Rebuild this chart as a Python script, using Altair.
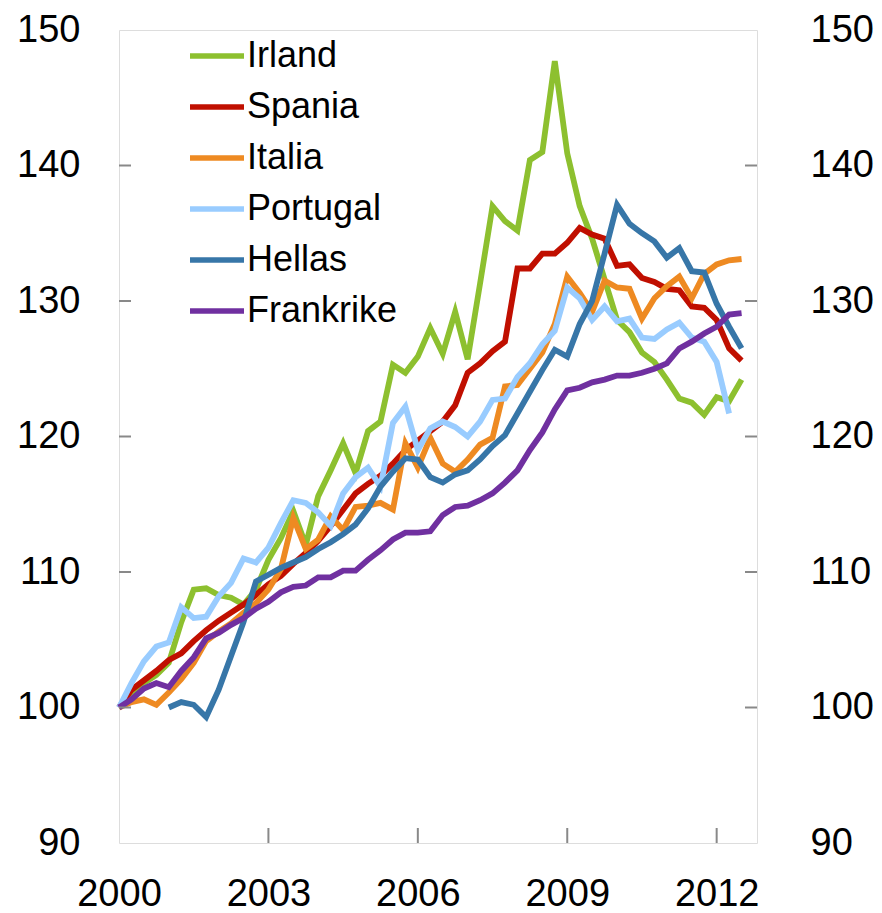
import altair as alt
import pandas as pd

series = ["Irland", "Spania", "Italia", "Portugal", "Hellas", "Frankrike"]
colors = ["#8DC02F", "#C00F00", "#EE8A22", "#99CCFF", "#3776A8", "#7030A0"]

irland = [100.0, 100.8, 101.8, 102.4, 103.3, 106.3, 108.7, 108.8, 108.3, 108.1,
          107.6, 108.7, 110.9, 112.5, 114.5, 112.0, 115.6, 117.5, 119.5, 117.3,
          120.4, 121.1, 125.3, 124.7, 125.9, 128.0, 126.1, 129.2, 125.7, 131.3,
          137.0, 135.9, 135.2, 140.4, 141.0, 147.7, 140.9, 137.0, 134.6, 131.6,
          128.6, 127.7, 126.2, 125.5, 124.2, 122.8, 122.5, 121.6, 122.9, 122.6,
          124.2]
spania = [100.0, 101.3, 102.0, 102.7, 103.5, 104.0, 104.9, 105.7, 106.4, 107.0,
          107.6, 108.3, 109.1, 109.7, 110.6, 111.4, 112.3, 113.4, 114.6, 115.8,
          116.5, 117.1, 118.0, 119.0, 119.7, 120.4, 121.1, 122.3, 124.7, 125.4,
          126.3, 127.0, 132.4, 132.4, 133.5, 133.5, 134.3, 135.4, 134.9, 134.6,
          132.6, 132.7, 131.7, 131.4, 130.9, 130.8, 129.6, 129.5, 128.6, 126.5,
          125.6]
italia = [100.0, 100.4, 100.6, 100.2, 101.1, 102.1, 103.3, 104.9, 105.6, 106.2,
          107.0, 107.7, 108.7, 110.2, 114.0, 111.7, 112.4, 114.1, 113.1, 114.8,
          114.9, 115.1, 114.6, 119.5, 117.7, 119.9, 118.0, 117.4, 118.3, 119.4,
          119.9, 123.7, 123.8, 125.0, 126.2, 128.3, 131.8, 130.6, 129.2, 131.5,
          131.0, 130.9, 128.7, 130.2, 131.1, 131.8, 130.2, 132.0, 132.7, 133.0,
          133.1]
portugal = [100.0, 101.8, 103.4, 104.5, 104.8, 107.4, 106.6, 106.7, 108.2, 109.2,
            111.0, 110.7, 111.8, 113.6, 115.3, 115.1, 114.4, 113.4, 115.8, 117.0,
            117.7, 116.3, 121.0, 122.2, 119.0, 120.6, 121.1, 120.7, 120.0, 121.1,
            122.7, 122.8, 124.4, 125.4, 126.8, 127.8, 131.0, 130.2, 128.6, 129.6,
            128.5, 128.7, 127.3, 127.2, 127.9, 128.4, 127.3, 127.0, 125.5, 121.7,
            None]
hellas = [None, None, None, None, 100.0, 100.4, 100.2, 99.3, 101.3, 103.8,
          106.3, 109.3, 109.8, 110.3, 110.7, 111.1, 111.7, 112.2, 112.8, 113.5,
          114.7, 116.3, 117.4, 118.4, 118.3, 117.0, 116.6, 117.2, 117.5, 118.3,
          119.3, 120.1, 121.7, 123.3, 124.9, 126.4, 125.9, 128.3, 130.0, 133.5,
          137.1, 135.7, 135.0, 134.4, 133.2, 133.9, 132.2, 132.1, 129.8, 128.1,
          126.5]
frankrike = [100.0, 100.6, 101.4, 101.8, 101.5, 102.7, 103.7, 105.1, 105.5, 106.1,
             106.6, 107.3, 107.8, 108.5, 108.9, 109.0, 109.6, 109.6, 110.1, 110.1,
             110.9, 111.6, 112.4, 112.9, 112.9, 113.0, 114.2, 114.8, 114.9, 115.3,
             115.8, 116.6, 117.5, 119.0, 120.3, 122.0, 123.4, 123.6, 124.0, 124.2,
             124.5, 124.5, 124.7, 125.0, 125.4, 126.5, 127.0, 127.6, 128.1, 129.0,
             129.1]

quarters = [2000 + i / 4 for i in range(51)]
x_ticks_vals = [2000, 2003, 2006, 2009, 2012]
y_ticks_vals = [90, 100, 110, 120, 130, 140, 150]
inner_y_ticks = [100, 110, 120, 130, 140]
inner_x_ticks = [2003, 2006, 2009, 2012]

rows = []
for name, vals in zip(series, [irland, spania, italia, portugal, hellas, frankrike]):
    for t, v in zip(quarters, vals):
        if v is not None:
            rows.append({"t": t, "serie": name, "v": v})
df = pd.DataFrame(rows)

W, H = 638, 813
GRAY = "#898989"
FONT = "Liberation Sans"

x_scale = alt.Scale(domain=[2000, 2012.81], nice=False, zero=False)
y_scale = alt.Scale(domain=[90, 150], nice=False, zero=False)

x_axis = alt.Axis(values=x_ticks_vals, format="d", ticks=False, domain=False, grid=False,
                  labelFontSize=38, labelPadding=32, labelColor="black", labelFont=FONT,
                  title=None, labelFlush=False, labelOverlap=False)
y_axis_left = alt.Axis(values=y_ticks_vals, ticks=False, domain=False, grid=False,
                       labelFontSize=38, labelPadding=39, labelColor="black", labelFont=FONT,
                       title=None, labelFlush=False, labelOverlap=False)
y_axis_right = alt.Axis(orient="right", values=y_ticks_vals, ticks=False, domain=False, grid=False,
                        labelFontSize=38, labelPadding=53, labelColor="black", labelFont=FONT,
                        title=None, labelFlush=False, labelOverlap=False)

legend = alt.Legend(orient="none", legendX=68, legendY=-4, title=None,
                    symbolType="stroke", symbolSize=2916, symbolStrokeWidth=5.5,
                    labelFontSize=36, labelFont=FONT, labelColor="black", labelOffset=0,
                    rowPadding=3, padding=0, labelLimit=400)

color = alt.Color("serie:N", scale=alt.Scale(domain=series, range=colors), legend=legend)

lines = [
    alt.Chart(df).transform_filter(alt.datum.serie == s).mark_line(strokeWidth=5.8).encode(
        x=alt.X("t:Q", scale=x_scale, axis=x_axis),
        y=alt.Y("v:Q", scale=y_scale, axis=y_axis_left),
        color=color,
    )
    for s in series
]

xt_df = pd.DataFrame({"t": inner_x_ticks})
x_tick_rules = alt.Chart(xt_df).mark_rule(color=GRAY, strokeWidth=2).encode(
    x=alt.X("t:Q", scale=x_scale, axis=x_axis),
    y=alt.value(H), y2=alt.value(H - 15),
)

yt_df = pd.DataFrame({"v": inner_y_ticks})
y_tick_left = alt.Chart(yt_df).mark_rule(color=GRAY, strokeWidth=2).encode(
    y=alt.Y("v:Q", scale=y_scale, axis=y_axis_left),
    x=alt.value(0), x2=alt.value(12),
)
y_tick_right = alt.Chart(yt_df).mark_rule(color=GRAY, strokeWidth=2).encode(
    y=alt.Y("v:Q", scale=y_scale, axis=y_axis_right),
    x=alt.value(W - 12), x2=alt.value(W),
)

inner = alt.layer(*lines, x_tick_rules, y_tick_left)
chart = alt.layer(inner, y_tick_right).resolve_scale(y="independent").properties(
    width=W, height=H,
    autosize=alt.AutoSizeParams(type="none"),
    padding={"left": 111, "top": 22, "right": 117, "bottom": 70},
).configure_view(stroke=GRAY, strokeWidth=2).configure(font=FONT)

chart.save("out.html", embed_options={"renderer": "svg", "actions": False})
